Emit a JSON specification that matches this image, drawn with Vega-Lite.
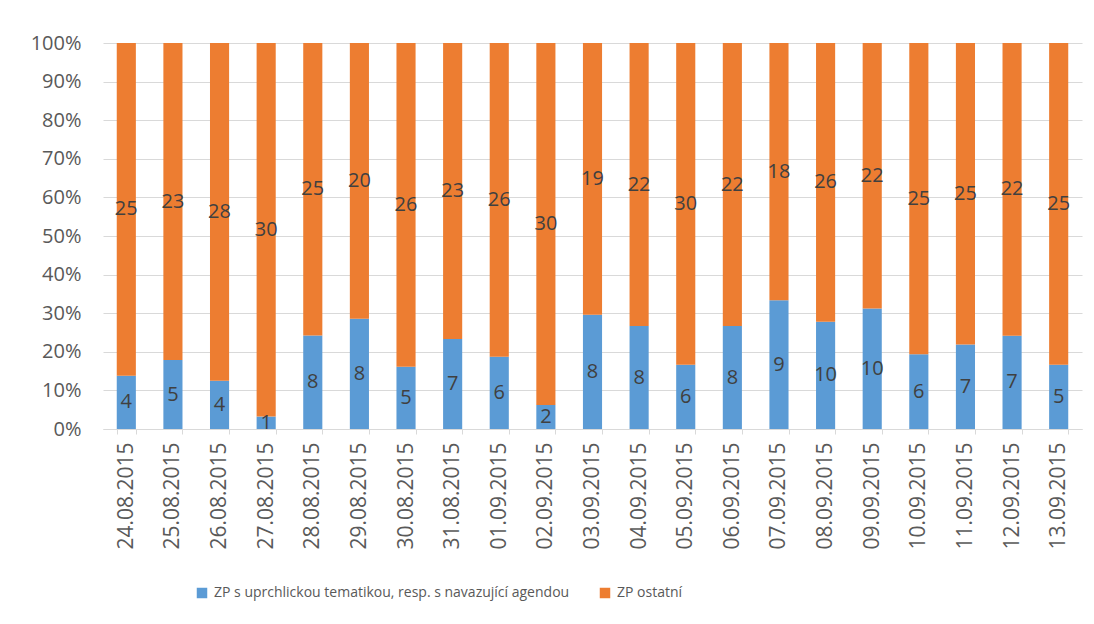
{
  "$schema": "https://vega.github.io/schema/vega-lite/v6.json",
  "autosize": "none",
  "width": 979,
  "height": 386,
  "padding": {"left": 103, "top": 43, "right": 12, "bottom": 195},
  "background": "white",
  "config": {
    "view": {"stroke": null},
    "font": "Open Sans"
  },
  "data": {
    "values": [
      {"datum": "24.08.2015", "serie": "ZP s uprchlickou tematikou, resp. s navazující agendou", "pocet": 4},
      {"datum": "24.08.2015", "serie": "ZP ostatní", "pocet": 25},
      {"datum": "25.08.2015", "serie": "ZP s uprchlickou tematikou, resp. s navazující agendou", "pocet": 5},
      {"datum": "25.08.2015", "serie": "ZP ostatní", "pocet": 23},
      {"datum": "26.08.2015", "serie": "ZP s uprchlickou tematikou, resp. s navazující agendou", "pocet": 4},
      {"datum": "26.08.2015", "serie": "ZP ostatní", "pocet": 28},
      {"datum": "27.08.2015", "serie": "ZP s uprchlickou tematikou, resp. s navazující agendou", "pocet": 1},
      {"datum": "27.08.2015", "serie": "ZP ostatní", "pocet": 30},
      {"datum": "28.08.2015", "serie": "ZP s uprchlickou tematikou, resp. s navazující agendou", "pocet": 8},
      {"datum": "28.08.2015", "serie": "ZP ostatní", "pocet": 25},
      {"datum": "29.08.2015", "serie": "ZP s uprchlickou tematikou, resp. s navazující agendou", "pocet": 8},
      {"datum": "29.08.2015", "serie": "ZP ostatní", "pocet": 20},
      {"datum": "30.08.2015", "serie": "ZP s uprchlickou tematikou, resp. s navazující agendou", "pocet": 5},
      {"datum": "30.08.2015", "serie": "ZP ostatní", "pocet": 26},
      {"datum": "31.08.2015", "serie": "ZP s uprchlickou tematikou, resp. s navazující agendou", "pocet": 7},
      {"datum": "31.08.2015", "serie": "ZP ostatní", "pocet": 23},
      {"datum": "01.09.2015", "serie": "ZP s uprchlickou tematikou, resp. s navazující agendou", "pocet": 6},
      {"datum": "01.09.2015", "serie": "ZP ostatní", "pocet": 26},
      {"datum": "02.09.2015", "serie": "ZP s uprchlickou tematikou, resp. s navazující agendou", "pocet": 2},
      {"datum": "02.09.2015", "serie": "ZP ostatní", "pocet": 30},
      {"datum": "03.09.2015", "serie": "ZP s uprchlickou tematikou, resp. s navazující agendou", "pocet": 8},
      {"datum": "03.09.2015", "serie": "ZP ostatní", "pocet": 19},
      {"datum": "04.09.2015", "serie": "ZP s uprchlickou tematikou, resp. s navazující agendou", "pocet": 8},
      {"datum": "04.09.2015", "serie": "ZP ostatní", "pocet": 22},
      {"datum": "05.09.2015", "serie": "ZP s uprchlickou tematikou, resp. s navazující agendou", "pocet": 6},
      {"datum": "05.09.2015", "serie": "ZP ostatní", "pocet": 30},
      {"datum": "06.09.2015", "serie": "ZP s uprchlickou tematikou, resp. s navazující agendou", "pocet": 8},
      {"datum": "06.09.2015", "serie": "ZP ostatní", "pocet": 22},
      {"datum": "07.09.2015", "serie": "ZP s uprchlickou tematikou, resp. s navazující agendou", "pocet": 9},
      {"datum": "07.09.2015", "serie": "ZP ostatní", "pocet": 18},
      {"datum": "08.09.2015", "serie": "ZP s uprchlickou tematikou, resp. s navazující agendou", "pocet": 10},
      {"datum": "08.09.2015", "serie": "ZP ostatní", "pocet": 26},
      {"datum": "09.09.2015", "serie": "ZP s uprchlickou tematikou, resp. s navazující agendou", "pocet": 10},
      {"datum": "09.09.2015", "serie": "ZP ostatní", "pocet": 22},
      {"datum": "10.09.2015", "serie": "ZP s uprchlickou tematikou, resp. s navazující agendou", "pocet": 6},
      {"datum": "10.09.2015", "serie": "ZP ostatní", "pocet": 25},
      {"datum": "11.09.2015", "serie": "ZP s uprchlickou tematikou, resp. s navazující agendou", "pocet": 7},
      {"datum": "11.09.2015", "serie": "ZP ostatní", "pocet": 25},
      {"datum": "12.09.2015", "serie": "ZP s uprchlickou tematikou, resp. s navazující agendou", "pocet": 7},
      {"datum": "12.09.2015", "serie": "ZP ostatní", "pocet": 22},
      {"datum": "13.09.2015", "serie": "ZP s uprchlickou tematikou, resp. s navazující agendou", "pocet": 5},
      {"datum": "13.09.2015", "serie": "ZP ostatní", "pocet": 25}
    ]
  },
  "transform": [
    {"stack": "pocet", "groupby": ["datum"], "offset": "normalize", "sort": [{"field": "serie", "order": "descending"}], "as": ["y0", "y1"]},
    {"calculate": "(datum.y0 + datum.y1) / 2", "as": "ymid"}
  ],
  "encoding": {
    "x": {
      "field": "datum",
      "type": "nominal",
      "sort": null,
      "scale": {"paddingInner": 0.59, "paddingOuter": 0.295},
      "axis": {
        "title": null,
        "labelAngle": -90,
        "labelAlign": "right",
        "labelBaseline": "middle",
        "labelFontSize": 21,
        "labelColor": "#595959",
        "labelPadding": 8,
        "labelOverlap": false,
        "domainColor": "#d9d9d9",
        "tickColor": "#d9d9d9",
        "tickSize": 5,
        "tickBand": "extent",
        "grid": false
      }
    }
  },
  "layer": [
    {
      "mark": {"type": "bar"},
      "encoding": {
        "y": {
          "field": "y0",
          "type": "quantitative",
          "scale": {"domain": [0, 1], "nice": false},
          "axis": {
            "title": null,
            "format": ".0%",
            "values": [0, 0.1, 0.2, 0.3, 0.4, 0.5, 0.6, 0.7, 0.8, 0.9, 1],
            "labelOverlap": false,
            "labelFontSize": 20,
            "labelColor": "#595959",
            "labelPadding": 22,
            "ticks": false,
            "domain": false,
            "grid": true,
            "gridColor": "#d9d9d9",
            "gridWidth": 1
          }
        },
        "y2": {"field": "y1"},
        "color": {
          "field": "serie",
          "type": "nominal",
          "scale": {
            "domain": ["ZP s uprchlickou tematikou, resp. s navazující agendou", "ZP ostatní"],
            "range": ["#5B9BD5", "#ED7D31"]
          },
          "legend": {
            "title": null,
            "orient": "none",
            "direction": "horizontal",
            "legendX": 92,
            "legendY": 543,
            "symbolType": "square",
            "symbolSize": 110,
            "symbolStrokeWidth": 0,
            "symbolOpacity": 1,
            "labelFontSize": 14,
            "labelColor": "#595959",
            "labelLimit": 600,
            "columnPadding": 28,
            "labelOffset": 5
          }
        }
      }
    },
    {
      "mark": {"type": "text", "fontSize": 20, "color": "#404040", "baseline": "middle", "align": "center"},
      "encoding": {
        "y": {
          "field": "ymid",
          "type": "quantitative",
          "scale": {"domain": [0, 1], "nice": false},
          "axis": {
            "title": null,
            "format": ".0%",
            "values": [0, 0.1, 0.2, 0.3, 0.4, 0.5, 0.6, 0.7, 0.8, 0.9, 1],
            "labelOverlap": false,
            "labelFontSize": 20,
            "labelColor": "#595959",
            "labelPadding": 22,
            "ticks": false,
            "domain": false,
            "grid": true,
            "gridColor": "#d9d9d9",
            "gridWidth": 1
          }
        },
        "text": {"field": "pocet", "type": "quantitative"}
      }
    }
  ]
}
